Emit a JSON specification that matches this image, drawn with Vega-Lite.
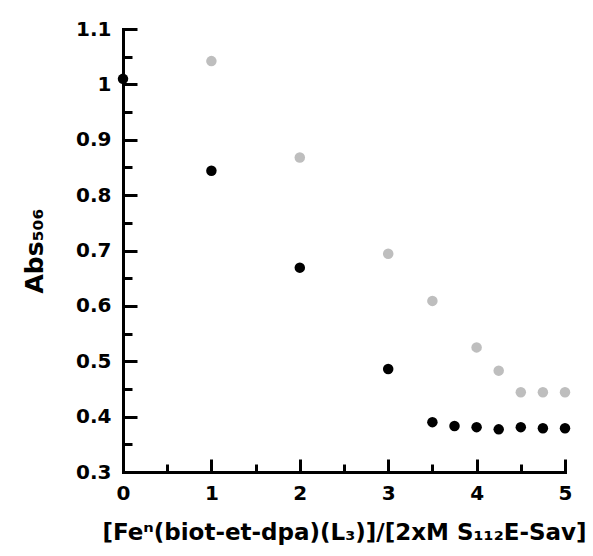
{
  "$schema": "https://vega.github.io/schema/vega-lite/v6.json",
  "width": 442,
  "height": 443,
  "autosize": {"type": "none"},
  "padding": {"left": 123, "top": 29, "right": 28, "bottom": 84},
  "background": "white",
  "config": {
    "view": {"stroke": null},
    "font": "DejaVu Sans",
    "axis": {
      "grid": false,
      "domainColor": "#000000",
      "domainWidth": 3,
      "domainCap": "square",
      "tickColor": "#000000",
      "tickWidth": 3,
      "labelFont": "DejaVu Sans",
      "labelFontWeight": "bold",
      "labelFontSize": 20,
      "labelColor": "#000000",
      "titleFont": "DejaVu Sans",
      "titleFontWeight": "bold",
      "titleColor": "#000000"
    }
  },
  "data": {
    "values": [
      {"x": 0, "y": 1.010, "series": "black"},
      {"x": 1, "y": 0.844, "series": "black"},
      {"x": 2, "y": 0.669, "series": "black"},
      {"x": 3, "y": 0.486, "series": "black"},
      {"x": 3.5, "y": 0.390, "series": "black"},
      {"x": 3.75, "y": 0.383, "series": "black"},
      {"x": 4, "y": 0.381, "series": "black"},
      {"x": 4.25, "y": 0.377, "series": "black"},
      {"x": 4.5, "y": 0.381, "series": "black"},
      {"x": 4.75, "y": 0.379, "series": "black"},
      {"x": 5, "y": 0.379, "series": "black"},
      {"x": 1, "y": 1.042, "series": "gray"},
      {"x": 2, "y": 0.868, "series": "gray"},
      {"x": 3, "y": 0.694, "series": "gray"},
      {"x": 3.5, "y": 0.609, "series": "gray"},
      {"x": 4, "y": 0.525, "series": "gray"},
      {"x": 4.25, "y": 0.483, "series": "gray"},
      {"x": 4.5, "y": 0.444, "series": "gray"},
      {"x": 4.75, "y": 0.444, "series": "gray"},
      {"x": 5, "y": 0.444, "series": "gray"}
    ]
  },
  "mark": {"type": "point", "filled": true, "opacity": 1, "size": 110, "shape": "circle", "strokeWidth": 0},
  "encoding": {
    "x": {
      "field": "x",
      "type": "quantitative",
      "scale": {"domain": [0, 5], "nice": false, "zero": false},
      "axis": {
        "title": "[Feⁿ(biot-et-dpa)(L₃)]/[2xM S₁₁₂E-Sav]",
        "titleFontSize": 23,
        "titlePadding": 13,
        "domainWidth": 3,
        "tickWidth": 3,
        "values": [0, 0.5, 1, 1.5, 2, 2.5, 3, 3.5, 4, 4.5, 5],
        "labelExpr": "abs(datum.value - round(datum.value)) < 0.001 ? toString(round(datum.value)) : ''",
        "tickSize": {"condition": {"test": "abs(datum.value - round(datum.value)) > 0.001", "value": -8}, "value": -13},
        "labelPadding": 24,
        "labelFlush": false,
        "labelOverlap": false
      }
    },
    "y": {
      "field": "y",
      "type": "quantitative",
      "scale": {"domain": [0.3, 1.1], "nice": false, "zero": false},
      "axis": {
        "title": "Abs₅₀₆",
        "titleFontSize": 25,
        "titlePadding": 28,
        "domainWidth": 3,
        "tickWidth": 3,
        "values": [0.3, 0.35, 0.4, 0.45, 0.5, 0.55, 0.6, 0.65, 0.7, 0.75, 0.8, 0.85, 0.9, 0.95, 1, 1.05, 1.1],
        "labelExpr": "abs(datum.value*10 - round(datum.value*10)) < 0.001 ? toString(round(datum.value*10)/10) : ''",
        "tickSize": {"condition": {"test": "abs(datum.value*10 - round(datum.value*10)) > 0.001", "value": -9}, "value": -14},
        "labelPadding": 26,
        "labelFlush": false,
        "labelOverlap": false
      }
    },
    "color": {
      "field": "series",
      "type": "nominal",
      "scale": {"domain": ["black", "gray"], "range": ["#000000", "#bebebe"]},
      "legend": null
    }
  }
}
